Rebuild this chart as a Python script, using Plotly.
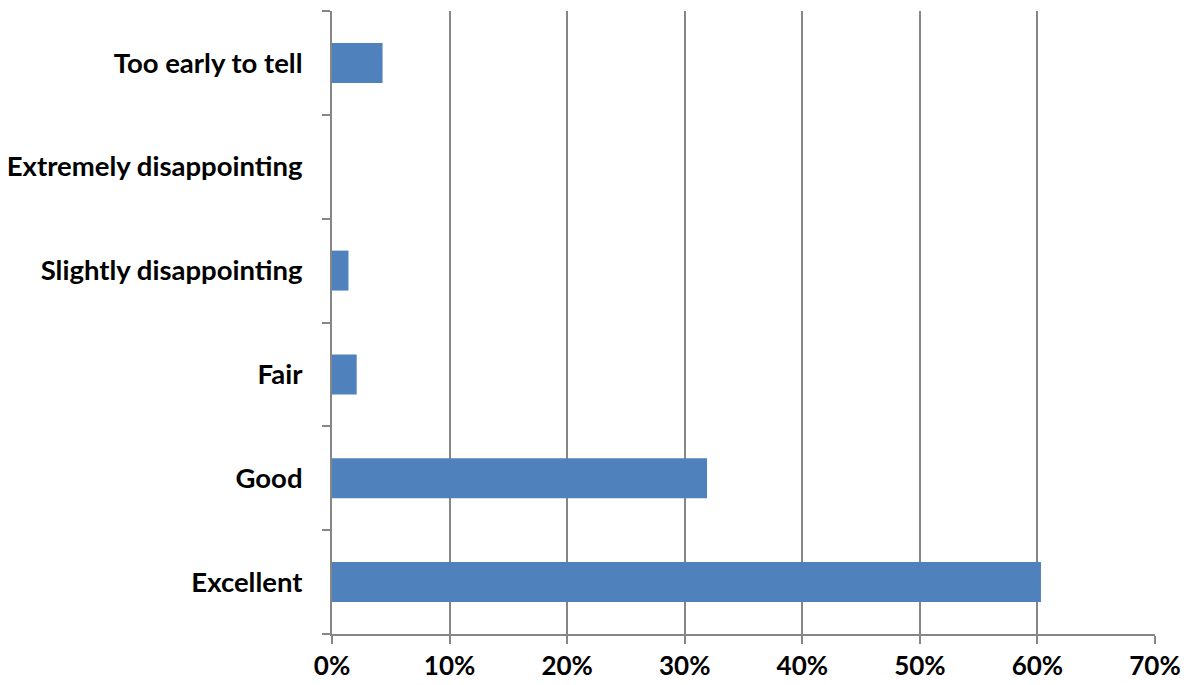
import plotly.graph_objects as go

categories = ["Excellent", "Good", "Fair", "Slightly disappointing",
              "Extremely disappointing", "Too early to tell"]
values = [0.603, 0.319, 0.021, 0.014, 0.0, 0.043]
x_ticks = [0, 0.1, 0.2, 0.3, 0.4, 0.5, 0.6, 0.7]

fig = go.Figure(go.Bar(
    y=categories, x=values, orientation="h",
    marker=dict(color="#4F81BD", line=dict(width=0)),
    width=0.385,
))

axis_col = "#868686"
yfont = dict(family="Lato, Calibri, sans-serif", size=27.5, color="black", weight="bold")
xfont = dict(family="Lato, Calibri, sans-serif", size=26, color="black", weight="bold")
fig.update_layout(
    width=1189, height=685,
    margin=dict(l=332, r=34, t=11, b=51, autoexpand=False),
    plot_bgcolor="white", paper_bgcolor="white",
    font=dict(family="Lato, Calibri, sans-serif", size=27, color="black"),
    showlegend=False,
    bargap=0.6,
)
fig.update_xaxes(
    range=[0, 0.7], tickvals=x_ticks, tickformat=".0%",
    showgrid=True, gridcolor=axis_col, gridwidth=2,
    showline=True, linecolor=axis_col, linewidth=2,
    ticks="outside", ticklen=8, tickcolor=axis_col, tickwidth=2,
    tickfont=xfont, ticklabelstandoff=0, automargin=False,
    zeroline=False, fixedrange=True,
)
fig.update_yaxes(
    categoryorder="array", categoryarray=categories,
    showline=True, linecolor=axis_col, linewidth=2,
    ticks="outside", ticklen=8, tickcolor=axis_col, tickwidth=2,
    tickson="boundaries", ticklabelstandoff=22, automargin=False,
    tickfont=yfont,
    showgrid=False, fixedrange=True,
)
fig.write_html("out.html", config={"displayModeBar": False},
               post_script="document.body.style.margin='0';document.body.style.overflow='hidden';")
